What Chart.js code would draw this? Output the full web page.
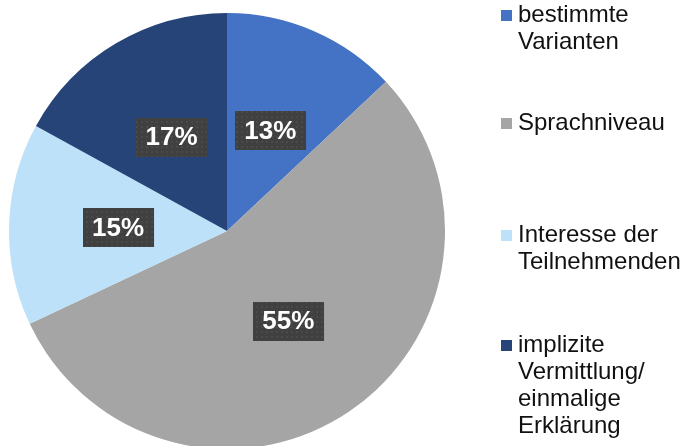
<!DOCTYPE html>
<html lang="de">
  <head>
    <meta charset="UTF-8" />
    <title>Gründe</title>
    <script src="https://cdn.jsdelivr.net/npm/chart.js"></script>
    <style>
      body {
        margin: 0;
        width: 685px;
        height: 446px;
        overflow: hidden;
        background: #fff;
        font-family: "Liberation Sans", Arial, sans-serif;
      }
      #wrap {
        position: absolute;
        left: 0;
        top: 0;
        width: 685px;
        height: 460px;
      }
      .leg-item {
        position: absolute;
        left: 518px;
        font-size: 24px;
        line-height: 27px;
        color: #111;
        white-space: nowrap;
      }
      .leg-box {
        position: absolute;
        left: -17px;
        top: 10px;
        width: 11px;
        height: 11px;
      }
    </style>
  </head>
  <body>
    <div id="wrap"><canvas id="pie" width="685" height="460"></canvas></div>
    <div id="legend"></div>

    <script>
      const labels = [
        ["bestimmte", "Varianten"],
        ["Sprachniveau"],
        ["Interesse der", "Teilnehmenden"],
        ["implizite", "Vermittlung/", "einmalige", "Erklärung"],
      ];
      const values = [13, 55, 15, 17];
      const colors = ["#4472C4", "#A5A5A5", "#BDE1F9", "#264478"];
      const legendTops = [0, 108, 220, 330];

      // dunkles Punktmuster für die Prozent-Kästchen
      function dotPattern(ctx) {
        const c = document.createElement("canvas");
        c.width = 5;
        c.height = 5;
        const p = c.getContext("2d");
        p.fillStyle = "#404040";
        p.fillRect(0, 0, 5, 5);
        p.fillStyle = "#4a4a4a";
        p.fillRect(1, 1, 2, 2);
        return ctx.createPattern(c, "repeat");
      }

      const pctLabels = {
        id: "pctLabels",
        afterDatasetsDraw(chart) {
          const ctx = chart.ctx;
          const meta = chart.getDatasetMeta(0);
          const pattern = dotPattern(ctx);
          ctx.save();
          ctx.font = "bold 26px 'Liberation Sans', Arial, sans-serif";
          ctx.textAlign = "center";
          ctx.textBaseline = "middle";
          meta.data.forEach((arc, i) => {
            const pos = arc.tooltipPosition();
            const text = values[i] + "%";
            const w = ctx.measureText(text).width + 19;
            const h = 39;
            ctx.fillStyle = pattern;
            ctx.fillRect(Math.round(pos.x - w / 2), Math.round(pos.y - h / 2), w, h);
            ctx.fillStyle = "#fff";
            ctx.fillText(text, pos.x, pos.y + 1);
          });
          ctx.restore();
        },
      };

      new Chart(document.getElementById("pie"), {
        type: "pie",
        data: {
          labels: labels,
          datasets: [
            {
              data: values,
              backgroundColor: colors,
              borderWidth: 0,
            },
          ],
        },
        options: {
          responsive: false,
          animation: false,
          layout: { padding: { left: 9, right: 240, top: 13, bottom: 11 } },
          plugins: {
            legend: { display: false },
            tooltip: { enabled: false },
          },
        },
        plugins: [pctLabels],
      });

      // Legende rechts
      const legend = document.getElementById("legend");
      labels.forEach((lines, i) => {
        const item = document.createElement("div");
        item.className = "leg-item";
        item.style.top = legendTops[i] + "px";
        const box = document.createElement("span");
        box.className = "leg-box";
        box.style.background = colors[i];
        item.appendChild(box);
        item.insertAdjacentHTML("beforeend", lines.join("<br>"));
        legend.appendChild(item);
      });
    </script>
  </body>
</html>
